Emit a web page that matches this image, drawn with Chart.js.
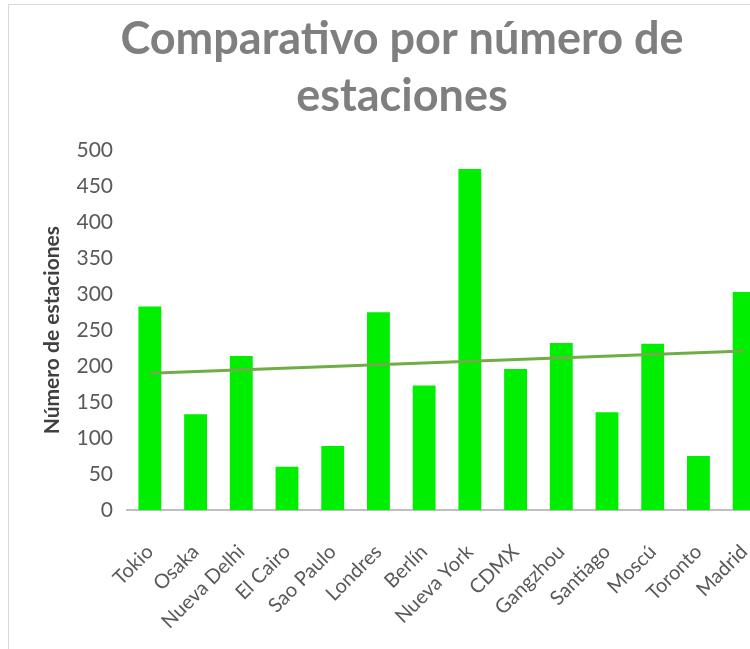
<!DOCTYPE html>
<html>
<head>
<meta charset="utf-8">
<script src="https://cdn.jsdelivr.net/npm/chart.js@4.4.1/dist/chart.umd.min.js"></script>
<style>
    html, body { margin: 0; padding: 0; background: #fff; overflow: hidden; }
    #wrap {
        position: absolute; left: 8px; top: 4px;
        width: 800px; height: 645px;
        border-top: 1px solid #d9d9d9; border-left: 1px solid #d9d9d9;
    }
</style>
</head>
<body>
<div id="wrap"><canvas id="stationsChart"></canvas></div>
<script>
// datos
const cities = ['Tokio', 'Osaka', 'Nueva Delhi', 'El Cairo', 'Sao Paulo', 'Londres', 'Berlín',
    'Nueva York', 'CDMX', 'Gangzhou', 'Santiago', 'Moscú', 'Toronto', 'Madrid'];
const stations = [283, 133, 214, 60, 89, 275, 173, 474, 196, 232, 136, 231, 75, 303];
// línea de tendencia: solo extremos, el resto se une
const trend = [190, null, null, null, null, null, null, null, null, null, null, null, null, 221];

document.addEventListener('DOMContentLoaded', function() {
    const ctx = document.getElementById('stationsChart').getContext('2d');
    new Chart(ctx, {
        type: 'bar',
        data: {
            labels: cities,
            datasets: [
                {
                    type: 'line',
                    label: 'Tendencia',
                    data: trend,
                    borderColor: '#70ad47',
                    borderWidth: 3,
                    pointRadius: 0,
                    spanGaps: true,
                    order: 0
                },
                {
                    label: 'Número de estaciones',
                    data: stations,
                    backgroundColor: '#00ee00',
                    categoryPercentage: 1,
                    barPercentage: 0.5,
                    order: 1
                }
            ]
        },
        options: {
            responsive: true,
            maintainAspectRatio: false,
            animation: false,
            layout: { padding: { left: 28, right: 42, top: 0, bottom: 0 } },
            plugins: {
                legend: { display: false },
                tooltip: { enabled: false },
                title: {
                    display: true,
                    text: ['Comparativo por número de', 'estaciones'],
                    color: '#7f7f7f',
                    font: { family: 'Lato', size: 45, weight: 'bold', lineHeight: 1.27 },
                    padding: { top: 6, bottom: 25 }
                }
            },
            scales: {
                x: {
                    grid: { display: false },
                    border: { color: '#bfbfbf', width: 2 },
                    afterFit: function(scale) { scale.height = 140; },
                    ticks: {
                        color: '#595959',
                        font: { family: 'Lato', size: 20 },
                        maxRotation: 45,
                        minRotation: 45,
                        autoSkip: false,
                        padding: 22
                    }
                },
                y: {
                    min: 0,
                    max: 500,
                    grid: { display: false },
                    border: { display: false },
                    afterFit: function(scale) { scale.width = 90; },
                    ticks: {
                        stepSize: 50,
                        color: '#595959',
                        font: { family: 'Lato', size: 21 },
                        padding: 6
                    },
                    title: {
                        display: true,
                        text: 'Número de estaciones',
                        color: '#404040',
                        font: { family: 'Lato', size: 21, weight: 'bold' },
                        padding: { top: 3, bottom: 0 }
                    }
                }
            }
        }
    });
});
</script>
</body>
</html>
